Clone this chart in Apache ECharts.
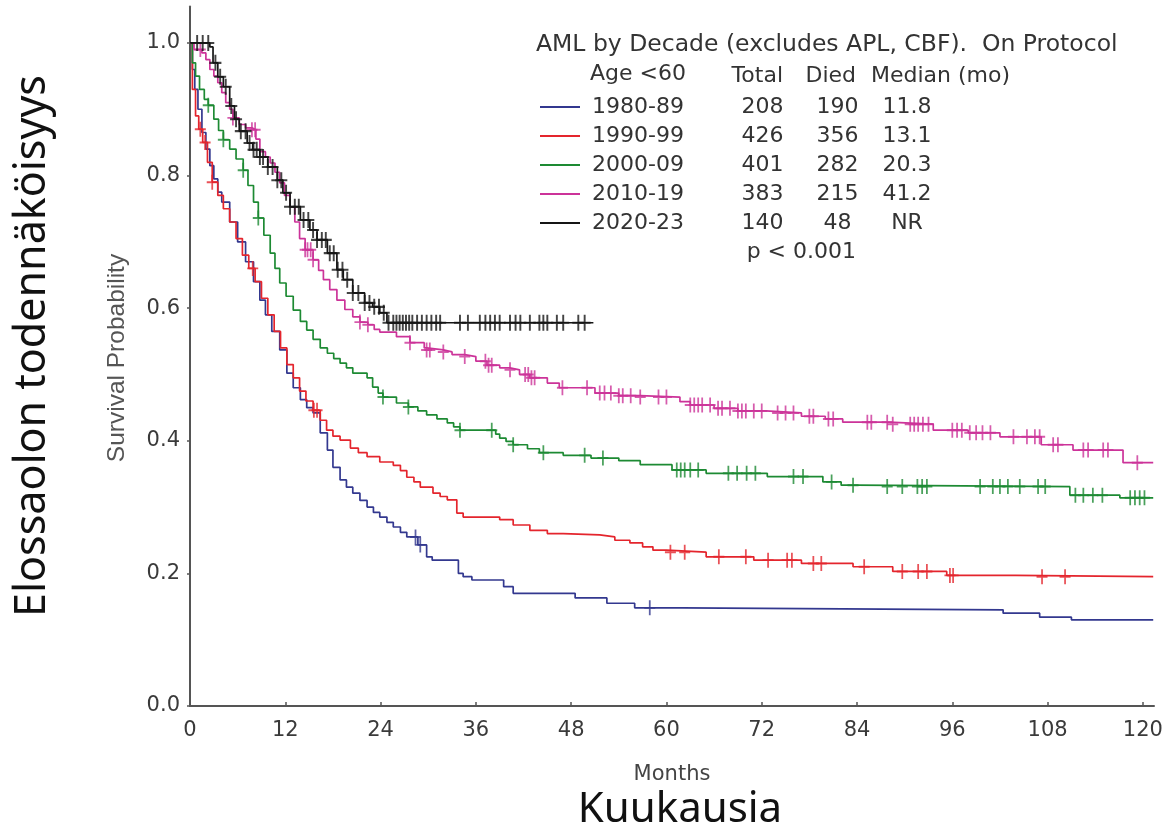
<!DOCTYPE html>
<html>
<head>
<meta charset="utf-8">
<script src="https://cdn.jsdelivr.net/npm/echarts@6/dist/echarts.min.js"></script>
<style>
  html, body { margin: 0; padding: 0; background: #fff; }
  #main { width: 1169px; height: 832px; }
</style>
</head>
<body>
<div id="main"></div>
<script>
// ryhmät ja taulukon luvut
var groups = ['1980-89', '1990-99', '2000-09', '2010-19', '2020-23']
var totals = ['208', '426', '401', '383', '140']
var died = ['190', '356', '282', '215', '48']
var medians = ['11.8', '13.1', '20.3', '41.2', 'NR']
var colors = ['#33388f', '#e4252d', '#1d8a33', '#cc3399', '#151515']
var xTicks = [0, 12, 24, 36, 48, 60, 72, 84, 96, 108, 120]
var yTicks = [0, 0.2, 0.4, 0.6, 0.8, 1.0]

// Kaplan-Meier käyrät: [kuukausi, elossaolo]
var km1980 = [[0, 1], [0.3, 0.96], [0.6, 0.93], [1, 0.9], [1.5, 0.865], [2, 0.84], [2.5, 0.815], [3, 0.795], [3.5, 0.775], [4, 0.76],
  [5, 0.73], [6, 0.7], [7, 0.67], [8, 0.64], [8.8, 0.612], [9.5, 0.59], [10.3, 0.565], [11.3, 0.537], [12.2, 0.502], [13, 0.48],
  [13.9, 0.462], [14.7, 0.45], [15.5, 0.442], [16.4, 0.412], [17.3, 0.386], [18, 0.36], [18.9, 0.341], [19.7, 0.33], [20.5, 0.321],
  [21.4, 0.31], [22.3, 0.3], [23.1, 0.292], [23.9, 0.285], [24.8, 0.277], [25.6, 0.27], [26.5, 0.262], [27.3, 0.255], [28.7, 0.243],
  [29.8, 0.225], [30.5, 0.22], [33.8, 0.2], [34.4, 0.195], [35.5, 0.19], [39.5, 0.18], [40.7, 0.17], [48.5, 0.163], [52.5, 0.155],
  [56, 0.148], [62, 0.145], [102.4, 0.14], [107, 0.134], [111, 0.13], [121.3, 0.13]]
var km1990 = [[0, 1], [0.3, 0.93], [0.7, 0.89], [1.1, 0.87], [1.6, 0.85], [2.2, 0.82], [2.8, 0.79], [3.5, 0.77], [4.2, 0.75], [5, 0.73],
  [5.8, 0.705], [6.6, 0.68], [7.4, 0.66], [8.2, 0.64], [9, 0.615], [9.8, 0.59], [10.6, 0.565], [11.4, 0.54], [12.2, 0.515], [13, 0.495],
  [13.8, 0.475], [14.6, 0.46], [15.5, 0.446], [16.4, 0.431], [17.2, 0.416], [18, 0.407], [18.9, 0.401], [20.2, 0.389], [21.2, 0.382],
  [22.3, 0.376], [23.9, 0.368], [25.6, 0.363], [26.5, 0.355], [27.3, 0.345], [28.2, 0.338], [29, 0.33], [30.6, 0.321], [31.5, 0.316],
  [32.4, 0.311], [33.6, 0.291], [34.4, 0.285], [39, 0.281], [40.7, 0.273], [42.8, 0.265], [45, 0.26], [47, 0.258], [51.6, 0.255],
  [53.5, 0.25], [55.4, 0.246], [57, 0.24], [58.3, 0.235], [60, 0.232], [65, 0.225], [71, 0.22], [77, 0.215], [83.5, 0.21],
  [88.5, 0.203], [95.3, 0.197], [104, 0.195], [121.3, 0.195]]
var km2000 = [[0, 1], [0.3, 0.97], [0.7, 0.95], [1.2, 0.93], [1.8, 0.915], [2.3, 0.906], [3, 0.885], [3.6, 0.868], [4.2, 0.854], [5, 0.84],
  [5.8, 0.825], [6.7, 0.808], [7.3, 0.785], [8, 0.76], [8.6, 0.736], [9.3, 0.71], [10.1, 0.683], [10.7, 0.66], [11.3, 0.638],
  [12.1, 0.618], [13, 0.597], [13.9, 0.58], [14.7, 0.567], [15.5, 0.553], [16.4, 0.54], [17.3, 0.532], [18.1, 0.524], [18.9, 0.517],
  [19.7, 0.51], [20.5, 0.502], [22.3, 0.495], [23, 0.481], [23.7, 0.472], [24.3, 0.466], [26, 0.457], [27.5, 0.451], [28.7, 0.445],
  [29.8, 0.439], [31.1, 0.433], [32.4, 0.427], [33.2, 0.421], [34, 0.416], [38.5, 0.41], [39, 0.404], [39.8, 0.399], [40.7, 0.394],
  [42.5, 0.388], [44, 0.382], [47, 0.378], [50.5, 0.374], [54, 0.37], [56.7, 0.364], [60.7, 0.356], [65, 0.351], [72.7, 0.346],
  [79.7, 0.338], [82, 0.333], [84, 0.331], [110.8, 0.318], [117.1, 0.314], [121.3, 0.314]]
var km2010 = [[0, 1], [0.5, 0.99], [1.5, 0.985], [2, 0.975], [2.5, 0.96], [3, 0.95], [3.5, 0.94], [4, 0.925], [4.5, 0.91], [5, 0.9],
  [5.4, 0.887], [6.2, 0.877], [7, 0.872], [7.8, 0.869], [8.3, 0.855], [8.8, 0.836], [9.5, 0.828], [10.1, 0.819], [10.7, 0.805],
  [11.3, 0.789], [11.9, 0.77], [12.6, 0.753], [13.2, 0.73], [13.8, 0.705], [14.5, 0.688], [15.5, 0.673], [16.2, 0.657], [16.8, 0.643],
  [17.6, 0.628], [18.5, 0.612], [19.5, 0.598], [20.5, 0.587], [21.4, 0.579], [22.4, 0.575], [23.2, 0.568], [23.9, 0.564], [26, 0.557],
  [27.7, 0.548], [29.5, 0.54], [29.8, 0.537], [31.9, 0.534], [33, 0.53], [34.6, 0.527], [36, 0.52], [37.4, 0.514], [39, 0.51],
  [40.3, 0.507], [41.5, 0.5], [42.8, 0.495], [45, 0.487], [46.5, 0.48], [51, 0.472], [54, 0.468], [56.7, 0.466], [61.7, 0.459],
  [63, 0.454], [66, 0.449], [69, 0.445], [72.5, 0.442], [77, 0.437], [80, 0.433], [82.2, 0.428], [88, 0.425], [93.6, 0.416],
  [98, 0.412], [102, 0.406], [107.2, 0.394], [111.2, 0.386], [117.5, 0.367], [121.3, 0.367]]
var km2020 = [[0, 1], [2.5, 0.994], [2.9, 0.97], [3.5, 0.949], [4.2, 0.934], [5, 0.905], [5.6, 0.885], [6.2, 0.867], [7.2, 0.849],
  [7.9, 0.839], [8.8, 0.828], [9.8, 0.813], [11, 0.793], [11.7, 0.774], [12.6, 0.753], [13.9, 0.733], [15.1, 0.718], [16, 0.703],
  [17.3, 0.683], [18.5, 0.658], [19.3, 0.643], [20.5, 0.623], [22, 0.608], [23, 0.602], [23.9, 0.593], [24.8, 0.578], [50.8, 0.578]]

// sensuroinnit (kuukausi)
var cens1980 = [28.4, 29, 57.9]
var cens1990 = [1.3, 1.9, 2.8, 7.9, 15.6, 16, 60.5, 62.3, 66.6, 70, 72.8, 75.2, 75.8, 78.5, 79.5, 84.9, 89.7, 91.7, 92.8, 95.7,
  96.1, 107.3, 110.2]
var cens2000 = [2.3, 4.2, 6.7, 8.6, 24.3, 27.5, 34, 38, 40.7, 44.5, 49.7, 52, 61.3, 61.8, 62.3, 63, 64, 67.8, 68.9, 70.1, 71.2, 76,
  77.2, 80.8, 83.5, 87.8, 89.7, 91.6, 92.2, 92.8, 99.5, 101.1, 102, 103, 104.5, 106.8, 107.7, 111.5, 112.5, 113.7, 114.9, 118.4,
  119, 119.6, 120.2]
var cens2010 = [1.3, 5.4, 7.8, 8.2, 14.5, 14.8, 15.2, 15.5, 21.4, 22.4, 27.7, 29.8, 30.2, 31.9, 34.6, 37.2, 37.6, 38, 40.3, 42.2,
  42.6, 43, 43.4, 46.9, 50, 51.6, 52.2, 53, 54, 54.5, 55.5, 56.7, 59, 60, 63, 63.5, 64, 64.5, 65.5, 66.5, 67, 68, 69, 69.5, 70, 71,
  72, 74, 75, 76, 78, 78.5, 80.4, 81, 85.3, 85.8, 87.8, 88.5, 90.7, 91.2, 91.7, 92.3, 93, 96, 96.6, 97.2, 98.2, 99, 99.8, 100.8,
  103.7, 105.4, 106.4, 107, 108.7, 109.3, 112.5, 113.1, 115, 115.6, 119.3]
var cens2020 = [0.9, 1.6, 2.3, 3.2, 3.8, 4.5, 5.2, 5.8, 6.4, 7, 7.5, 8, 8.4, 8.8, 9.2, 9.8, 10.4, 11, 11.5, 12.1, 12.6, 13.2,
  13.7, 14.3, 14.9, 15.5, 16, 16.6, 17.1, 17.6, 18.1, 18.6, 19.2, 19.8, 20.5, 21.2, 22, 22.6, 23.2, 23.8, 24.4, 25, 25.6, 26,
  26.4, 26.8, 27.2, 27.6, 28, 28.6, 29.2, 29.8, 30.4, 31, 31.5, 34, 35, 36.5, 37.2, 37.8, 38.4, 39, 40.3, 41, 41.6, 42.8, 44,
  44.5, 45, 46.2, 47, 48.9, 49.7]

var curves = [km1980, km1990, km2000, km2010, km2020]
var censors = [cens1980, cens1990, cens2000, cens2010, cens2020]

// porrasfunktion arvo hetkellä t
function survAt (curve, t) {
  var v = curve[0][1]
  for (var i = 0; i < curve.length; i++) {
    if (curve[i][0] <= t) v = curve[i][1]
  }
  return v
}

var plusPath = 'path://M-1.6,-10H1.6V-1.3H10V1.3H1.6V10H-1.6V1.3H-10V-1.3H-1.6Z'
var seriesArr = []
groups.forEach(function (g, i) {
  seriesArr.push({
    name: g,
    type: 'line',
    step: 'end',
    showSymbol: false,
    symbol: 'none',
    z: 2 + i,
    itemStyle: { color: colors[i] },
    lineStyle: { color: colors[i], width: 1.7 },
    data: curves[i]
  })
})
groups.forEach(function (g, i) {
  seriesArr.push({
    name: g + ' censored',
    type: 'scatter',
    symbol: plusPath,
    symbolSize: i === 4 ? [12, 16] : [11, 15],
    z: 2 + i,
    itemStyle: { color: colors[i] },
    data: censors[i].map(function (t) { return [t, survAt(curves[i], t)] })
  })
})

var txt = '#333'
var richCell = function (w, align) {
  return { fontFamily: 'DejaVu Sans', fontSize: 22, color: txt, width: w, align: align }
}
var myChart = echarts.init(document.getElementById('main'))
myChart.setOption({
  animation: false,
  backgroundColor: '#fff',
  grid: { left: 190, right: 15, top: 6.5, bottom: 126 },
  legend: {
    data: groups,
    orient: 'vertical',
    left: 540,
    top: 96,
    padding: 0,
    itemGap: 7,
    icon: 'rect',
    itemWidth: 40,
    itemHeight: 2,
    selectedMode: false,
    formatter: function (name) {
      var i = groups.indexOf(name)
      return '{n|' + name + '}{t|' + totals[i] + '}{d|' + died[i] + '}{m|' + medians[i] + '}'
    },
    textStyle: {
      color: txt,
      padding: [0, 0, 0, 7],
      rich: {
        n: richCell(130, 'left'),
        t: richCell(81, 'right'),
        d: richCell(69, 'right'),
        m: richCell(70, 'center')
      }
    }
  },
  xAxis: {
    type: 'value',
    min: 0,
    max: 121.4,
    interval: 12,
    splitLine: { show: false },
    axisLine: { lineStyle: { color: '#555', width: 2 } },
    axisTick: { inside: true, length: 4, lineStyle: { color: '#555', width: 1.5 } },
    axisLabel: {
      showMaxLabel: false,
      margin: 14,
      color: '#3a3a3a',
      fontFamily: 'DejaVu Sans',
      fontSize: 21,
      formatter: function (v) { return xTicks.indexOf(v) >= 0 ? String(v) : '' }
    }
  },
  yAxis: {
    type: 'value',
    min: 0,
    max: 1.055,
    interval: 0.2,
    splitLine: { show: false },
    axisLine: { show: true, lineStyle: { color: '#555', width: 2 } },
    axisTick: { show: true, length: 3, lineStyle: { color: '#555', width: 1.5 } },
    axisLabel: {
      showMaxLabel: false,
      margin: 10,
      color: '#3a3a3a',
      fontFamily: 'DejaVu Sans',
      fontSize: 21,
      formatter: function (v) {
        var k = Math.round(v * 10) / 10
        return yTicks.indexOf(k) >= 0 ? k.toFixed(1) : ''
      }
    }
  },
  graphic: [
    { type: 'text', left: 536, top: 33, style: { text: 'AML by Decade (excludes APL, CBF).  On Protocol', fill: txt, font: '23.5px "DejaVu Sans"' } },
    { type: 'text', left: 590, top: 63, style: { text: 'Age <60', fill: txt, font: '22px "DejaVu Sans"' } },
    { type: 'text', x: 783, y: 76, style: { text: 'Total', fill: txt, font: '22px "DejaVu Sans"', textAlign: 'right', textVerticalAlign: 'middle' } },
    { type: 'text', x: 856, y: 76, style: { text: 'Died', fill: txt, font: '22px "DejaVu Sans"', textAlign: 'right', textVerticalAlign: 'middle' } },
    { type: 'text', x: 871, y: 76, style: { text: 'Median (mo)', fill: txt, font: '22px "DejaVu Sans"', textAlign: 'left', textVerticalAlign: 'middle' } },
    { type: 'text', x: 856, y: 252, style: { text: 'p < 0.001', fill: txt, font: '22px "DejaVu Sans"', textAlign: 'right', textVerticalAlign: 'middle' } },
    { type: 'text', x: 672, y: 775, style: { text: 'Months', fill: '#444', font: '21px "DejaVu Sans"', textAlign: 'center', textVerticalAlign: 'middle' } },
    { type: 'text', x: 117, y: 358, rotation: Math.PI / 2, style: { text: 'Survival Probability', fill: '#555', font: '24.5px "Liberation Sans"', textAlign: 'center', textVerticalAlign: 'middle' } },
    { type: 'text', x: 680, y: 810, style: { text: 'Kuukausia', fill: '#111', font: '42px "Noto Sans"', textAlign: 'center', textVerticalAlign: 'middle' } },
    { type: 'text', x: 33, y: 346, rotation: Math.PI / 2, style: { text: 'Elossaolon todennäköisyys', fill: '#111', font: '43px "Noto Sans"', textAlign: 'center', textVerticalAlign: 'middle' } }
  ],
  series: seriesArr
})
</script>
</body>
</html>
